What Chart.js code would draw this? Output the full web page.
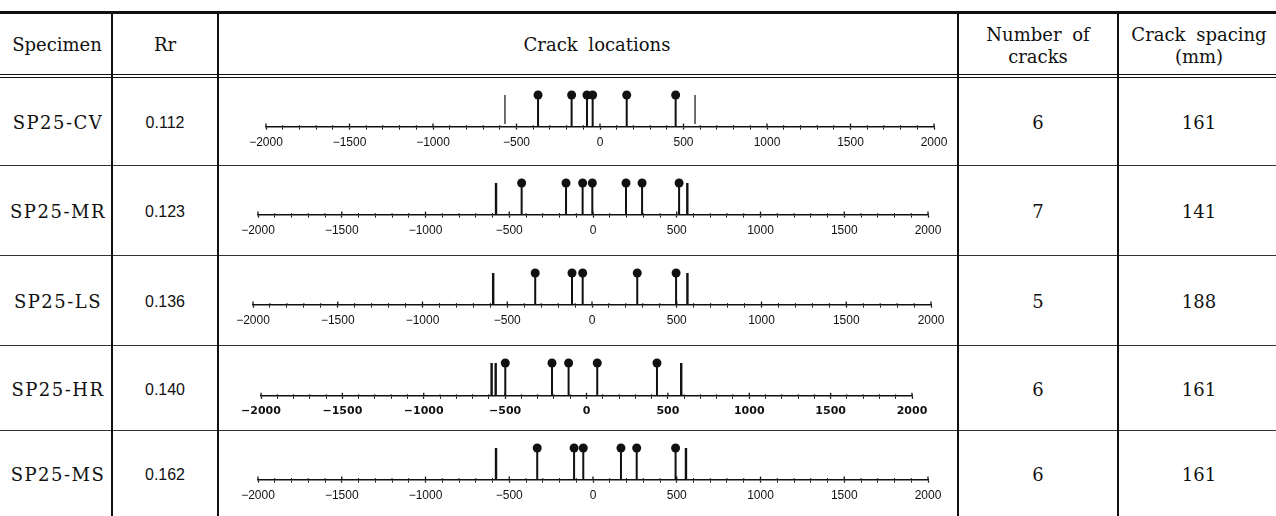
<!DOCTYPE html>
<html><head><meta charset="utf-8">
<script src="https://cdn.jsdelivr.net/npm/chart.js@4/dist/chart.umd.min.js"></script>
<style>
html,body{margin:0;padding:0;background:#fff;}
body{width:1276px;height:516px;overflow:hidden;position:relative;font-family:"DejaVu Serif",serif;color:#111;}
.txt{position:absolute;transform:translate(-50%,-50%);white-space:nowrap;font-size:18px;line-height:22px;text-align:center;word-spacing:5px;}
.sans{font-family:"Liberation Sans",Arial,sans-serif;font-size:16px;}
.hl{position:absolute;left:0;width:1276px;background:#111;}
.vl{position:absolute;width:1.3px;background:#111;}
.cv{position:absolute;}
</style></head>
<body>
<script>
// ---- data ----
const specimens = ['SP25-CV','SP25-MR','SP25-LS','SP25-HR','SP25-MS'];
const rrValues = ['0.112','0.123','0.136','0.140','0.162'];
const numberOfCracks = ['6','7','5','6','6'];
const crackSpacing = ['161','141','188','161','161'];
const tickLabels = [-2000,-1500,-1000,-500,0,500,1000,1500,2000];
const cracksCV = [-371,-170,-78,-44,160,453];
const endsCV = [-569,569];
const cracksMR = [-426,-161,-62,-4,197,293,514];
const endsMR = [-579,563];
const cracksLS = [-335,-118,-55,267,496];
const endsLS = [-583,563];
const cracksHR = [-499,-212,-110,66,433];
const endsHR = [-583,-558,582];
const cracksMS = [-333,-113,-58,167,261,493];
const endsMS = [-579,555];

const crackRows = [cracksCV,cracksMR,cracksLS,cracksHR,cracksMS];
const endRows = [endsCV,endsMR,endsLS,endsHR,endsMS];

// ---- layout ----
const rowTops = [77,165,255,345,430,516];
const axisSpan = [[266,934],[258,928],[253,931],[261,912],[258,928]];
const colLines = [112,218,958,1118];

function add(el){document.body.appendChild(el);return el;}
function line(cls,style){const d=document.createElement('div');d.className=cls;Object.assign(d.style,style);return add(d);}
function text(html,x,y,extra){const d=document.createElement('div');d.className='txt'+(extra?' '+extra:'');d.innerHTML=html;d.style.left=x+'px';d.style.top=y+'px';return add(d);}

// table lines
line('hl',{top:'11px',height:'2.5px'});
line('hl',{top:'73.5px',height:'1px'});
line('hl',{top:'76.5px',height:'1px'});
for(let i=1;i<5;i++) line('hl',{top:rowTops[i]+'px',height:'1px',background:'#333'});
colLines.forEach(x=>line('vl',{left:(x-0.6)+'px',top:'12px',height:'504px'}));

// header
text('Specimen',57,45);
text('Rr',165,45);
text('Crack locations',597,45);
text('Number of<br>cracks',1038,46);
text('Crack spacing<br>(mm)',1199,46);

// body text
for(let i=0;i<5;i++){
  const cy=(rowTops[i]+rowTops[i+1])/2+2;
  text(specimens[i],58,cy).style.letterSpacing='1.5px';
  text(rrValues[i],165,cy,'sans');
  text(numberOfCracks[i],1038,cy);
  text(crackSpacing[i],1199,cy);
}

const upTicks={id:'upTicks',afterDraw(chart){
  const s=chart.scales.x;const c=chart.ctx;c.save();c.strokeStyle='#111';
  s.ticks.forEach(t=>{const x=s.getPixelForValue(t.value);const major=t.value%500===0;
    c.lineWidth=major?1.3:1;c.beginPath();c.moveTo(x,s.top);c.lineTo(x,s.top-(major?3:1.5));c.stroke();});
  c.restore();}};

function stems(arr,y0){return arr.flatMap(x=>[{x:x,y:y0},{x:x,y:1},{x:x,y:null}]);}

for(let i=0;i<5;i++){
  const T=rowTops[i];
  const H=67;
  const cv=document.createElement('canvas');cv.className='cv';
  cv.width=740;cv.height=H;cv.style.left='218px';cv.style.top=(T+12)+'px';
  cv.style.width='740px';cv.style.height=H+'px';add(cv);
  const bold=(i===3);
  new Chart(cv,{
    type:'scatter',
    data:{datasets:[
      {data:stems(crackRows[i],0),showLine:true,borderColor:'#111',borderWidth:2,pointRadius:0,spanGaps:false,clip:false},
      {data:stems(endRows[i],i===0?0.08:0),showLine:true,borderColor:'#111',borderWidth:i===0?1.2:2.4,pointRadius:0,spanGaps:false,clip:false},
      {data:crackRows[i].map(x=>({x:x,y:1})),showLine:false,pointRadius:4.5,pointStyle:'circle',backgroundColor:'#111',borderColor:'#111',borderWidth:0,clip:false}
    ]},
    options:{
      responsive:false,animation:false,devicePixelRatio:1,
      layout:{padding:{top:6,bottom:0,left:axisSpan[i][0]-218,right:958-axisSpan[i][1]}},
      plugins:{legend:{display:false},tooltip:{enabled:false}},
      scales:{
        x:{type:'linear',min:-2000,max:2000,
          ticks:{stepSize:100,autoSkip:false,maxRotation:0,padding:6,color:'#111',
            font:bold?{family:'DejaVu Sans',size:11,weight:'bold'}:{family:'Liberation Sans',size:12},
            callback:v=>tickLabels.includes(v)?String(v).replace('-','\u2212'):''},
          grid:{display:true,drawOnChartArea:false,drawTicks:true,tickLength:3,tickColor:'#111',
            tickWidth:ctx=>(ctx.tick&&ctx.tick.value%500===0)?1.3:1},
          border:{display:true,color:'#111',width:1.5}},
        y:{display:false,min:0,max:1}
      }
    },
    plugins:[upTicks]
  });
}
</script>
</body></html>
